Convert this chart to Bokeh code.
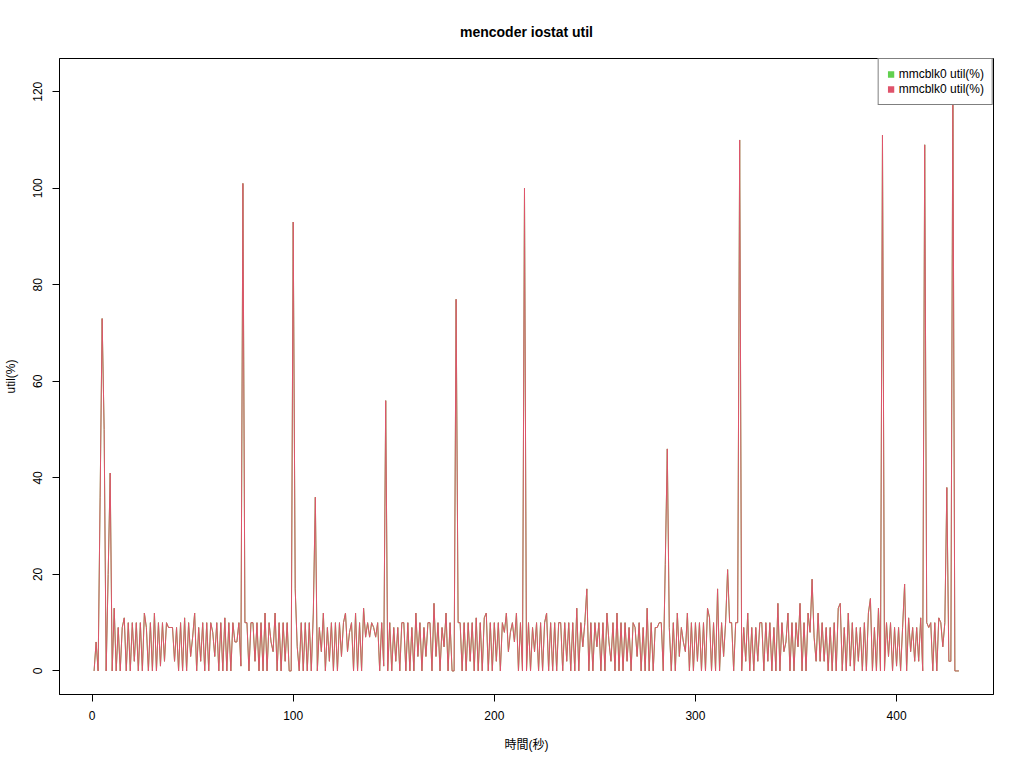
from bokeh.plotting import figure
from bokeh.models import Range1d, FixedTicker, Legend, LegendItem, ColumnDataSource
from bokeh.embed import file_html
from bokeh.resources import INLINE

# ---- data (time in seconds, util %) ----
util = [
    0, 6, 0, 36, 73, 50, 0, 20, 41, 0,
    13, 0, 9, 0, 9, 11, 0, 10, 0, 10,
    2, 10, 0, 10, 0, 12, 9, 0, 10, 0,
    12, 0, 10, 1, 10, 2, 10, 9, 9, 9,
    2, 9, 0, 10, 0, 11, 0, 10, 3, 7,
    12, 0, 9, 2, 10, 0, 10, 0, 10, 8,
    3, 10, 0, 10, 0, 11, 0, 10, 0, 10,
    6, 6, 10, 1, 101, 10, 10, 0, 10, 10,
    2, 10, 0, 10, 0, 12, 0, 10, 6, 4,
    12, 0, 10, 0, 10, 2, 10, 0, 0, 93,
    17, 5, 0, 10, 0, 10, 0, 10, 0, 12,
    36, 0, 9, 4, 12, 0, 9, 2, 10, 0,
    10, 0, 10, 3, 10, 12, 4, 8, 10, 0,
    12, 0, 10, 0, 13, 7, 10, 7, 10, 9,
    7, 10, 0, 10, 1, 56, 0, 10, 0, 9,
    2, 9, 0, 10, 10, 0, 10, 0, 9, 0,
    12, 3, 10, 0, 9, 3, 10, 10, 0, 14,
    3, 10, 0, 9, 5, 12, 0, 10, 0, 0,
    77, 10, 10, 0, 10, 0, 10, 2, 10, 0,
    11, 0, 10, 0, 11, 12, 0, 10, 0, 10,
    2, 10, 0, 10, 8, 12, 4, 8, 10, 6,
    12, 0, 10, 0, 100, 0, 10, 0, 9, 4,
    10, 0, 10, 0, 10, 12, 0, 10, 0, 10,
    0, 10, 10, 0, 10, 2, 10, 0, 10, 0,
    13, 0, 10, 5, 10, 17, 0, 10, 0, 10,
    5, 10, 0, 10, 0, 12, 6, 2, 10, 0,
    12, 0, 10, 0, 10, 2, 9, 0, 10, 9,
    3, 10, 0, 9, 0, 13, 0, 10, 0, 9,
    9, 10, 10, 0, 22, 46, 9, 0, 10, 0,
    12, 3, 9, 6, 4, 12, 0, 10, 0, 10,
    2, 10, 0, 10, 0, 13, 11, 0, 10, 0,
    17, 0, 10, 3, 10, 21, 10, 10, 0, 10,
    10, 110, 0, 9, 2, 12, 0, 9, 0, 9,
    2, 10, 10, 0, 10, 2, 10, 0, 9, 0,
    14, 0, 10, 4, 6, 12, 0, 10, 0, 10,
    5, 14, 0, 10, 0, 12, 8, 19, 7, 2,
    12, 2, 10, 2, 9, 0, 9, 0, 10, 0,
    13, 14, 0, 9, 0, 12, 1, 10, 0, 9,
    2, 9, 0, 10, 0, 12, 15, 0, 9, 0,
    13, 0, 111, 0, 10, 3, 10, 0, 9, 1,
    9, 0, 9, 18, 0, 11, 4, 9, 2, 9,
    2, 11, 0, 109, 10, 9, 10, 0, 10, 0,
    11, 10, 5, 10, 38, 2, 2, 122, 0, 0, 0,
]
seconds = list(range(1, len(util) + 1))
series_names = ["mmcblk0 util(%)", "mmcblk0 util(%)"]
series_colors = ["#61D04F", "#DF536B"]
x_ticks = [0, 100, 200, 300, 400]
y_ticks = [0, 20, 40, 60, 80, 100, 120]

FONT = "'Liberation Sans', 'Noto Sans CJK JP', sans-serif"

# R-style 4% axis expansion
xs, xe = min(seconds), max(seconds)
ys, ye = min(util), max(util)
xpad = (xe - xs) * 0.04
ypad = (ye - ys) * 0.04

p = figure(width=1016, height=760, output_backend="svg", toolbar_location=None,
           x_range=Range1d(xs - xpad, xe + xpad), y_range=Range1d(ys - ypad, ye + ypad),
           min_border_left=59, min_border_right=23, min_border_top=58, min_border_bottom=66)
p.background_fill_color = "white"
p.border_fill_color = "white"
p.outline_line_color = "black"
p.outline_line_width = 1
p.xgrid.visible = False
p.ygrid.visible = False

p.title.text = "mencoder iostat util"
p.title.align = "center"
p.title.vertical_align = "top"
p.title.text_font = FONT
p.title.text_font_size = "14px"
p.title.text_font_style = "bold"
p.title.text_color = "black"
p.title.standoff = 34

for ax, ticks in ((p.xaxis, x_ticks), (p.yaxis, y_ticks)):
    ax.ticker = FixedTicker(ticks=ticks)
    ax.minor_tick_line_color = None
    ax.major_tick_out = 7
    ax.major_tick_in = 0
    ax.axis_line_color = "black"
    ax.major_tick_line_color = "black"
    ax.major_label_text_font = FONT
    ax.major_label_text_font_size = "12px"
    ax.major_label_text_color = "black"
    ax.axis_label_text_font = FONT
    ax.axis_label_text_font_size = "12px"
    ax.axis_label_text_font_style = "normal"
    ax.axis_label_text_color = "black"

p.xaxis.axis_label = "時間(秒)"
p.xaxis.major_label_standoff = 9
p.xaxis.axis_label_standoff = 15
p.yaxis.axis_label = "util(%)"
p.yaxis.major_label_orientation = "vertical"
p.yaxis.major_label_standoff = 10
p.yaxis.axis_label_standoff = 13

src = ColumnDataSource(dict(t=seconds, u=util))
items = []
for name, col in zip(series_names, series_colors):
    p.line("t", "u", source=src, line_color=col, line_width=1)
    # swatch renderer for the legend key: zero-area quads, nothing visible in the plot
    sw = p.quad(left="t", right="t", top="u", bottom="u", source=src,
                fill_color=col, line_color=None)
    items.append(LegendItem(label=name, renderers=[sw]))

legend = Legend(items=items, location="top_right", margin=0, padding=8, spacing=1,
                glyph_width=8, glyph_height=8, label_height=14, label_standoff=4,
                label_text_font=FONT, label_text_font_size="12px", label_text_color="black",
                border_line_color="black", border_line_width=1,
                background_fill_color="white", background_fill_alpha=1)
p.add_layout(legend, "center")

open("out.html", "w").write(file_html(p, INLINE))
